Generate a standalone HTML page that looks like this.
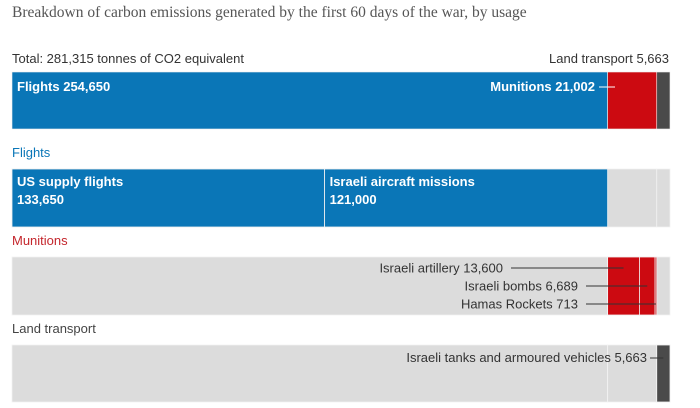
<!DOCTYPE html>
<html><head><meta charset="utf-8"><style>
html,body{margin:0;padding:0;background:#fff;}
svg{display:block;font-family:"Liberation Sans",sans-serif;}
.w{fill:#fff;font-weight:bold;font-size:13px;}
.g{fill:#333;font-size:13px;}
</style></head><body>
<svg id="c" width="700" height="408" viewBox="0 0 700 408">
<text x="12" y="17" font-family="Liberation Serif,serif" font-size="15.5" fill="#555">Breakdown of carbon emissions generated by the first 60 days of the war, by usage</text>
<text x="12" y="63" class="g">Total: 281,315 tonnes of CO2 equivalent</text>
<text x="157" y="157" font-size="13" fill="#0a76b7" transform="translate(-145,0)">Flights</text>
<text x="12" y="245" font-size="13" fill="#c4262c">Munitions</text>
<text x="12" y="333" font-size="13" fill="#444">Land transport</text>
<g id="marks"></g>
</svg>
<script>
const categories = ["Flights", "Munitions", "Land transport"];
const categoryValues = [254650, 21002, 5663];
const flightLabels = ["US supply flights", "Israeli aircraft missions"];
const flightValues = [133650, 121000];
const munitionLabels = ["Israeli artillery", "Israeli bombs", "Hamas Rockets"];
const munitionValues = [13600, 6689, 713];
const landLabels = ["Israeli tanks and armoured vehicles"];
const landValues = [5663];
const colors = ["#0a76b7", "#cc0a11", "#4a4a4a"];

const NS = "http://www.w3.org/2000/svg";
const g = document.getElementById("marks");
const total = categoryValues.reduce((a, b) => a + b, 0);
const X0 = 12, W = 658;
const x = v => X0 + v / total * W;
const fmt = v => v.toLocaleString("en-US");
function mk(tag, attrs, parent) {
  const e = document.createElementNS(NS, tag);
  for (const k in attrs) e.setAttribute(k, attrs[k]);
  (parent || g).appendChild(e);
  return e;
}
function txt(s, attrs) { const e = mk("text", attrs); e.textContent = s; return e; }
// category starts
const starts = []; let acc = 0;
categoryValues.forEach(v => { starts.push(acc); acc += v; });
const rows = [[72, 57], [169, 58], [257, 58], [345, 57]];

// row 0: total breakdown
categoryValues.forEach((v, i) => {
  const r = mk("rect", {x: x(starts[i]), y: rows[0][0], width: x(starts[i] + v) - x(starts[i]), height: rows[0][1], fill: colors[i], stroke: "#f0f0f0", "stroke-width": 0.6});
  
  
});
let t = txt(categories[0] + " " + fmt(categoryValues[0]), {x: 17, y: 91, class: "w"});


t = txt(categories[1] + " " + fmt(categoryValues[1]), {x: 595, y: 91, class: "w", "text-anchor": "end"});


let l = mk("line", {x1: 599, x2: 615, y1: 87, y2: 87, stroke: "#fff", "stroke-width": 1});


t = txt(categories[2] + " " + fmt(categoryValues[2]), {x: 669, y: 63, class: "g", "text-anchor": "end", fill: "#555"});



// background segments for detail rows
function bg(rowIdx, name) {
  categoryValues.forEach((v, i) => {
    const r = mk("rect", {x: x(starts[i]), y: rows[rowIdx][0], width: x(starts[i] + v) - x(starts[i]), height: rows[rowIdx][1], fill: "#dcdcdc", stroke: "#f2f2f2", "stroke-width": 0.8});
    
    
  });
}
function sub(rowIdx, base, vals, color, name, lbls) {
  let a = base; const out = [];
  vals.forEach((v, i) => {
    const r = mk("rect", {x: x(a), y: rows[rowIdx][0], width: x(a + v) - x(a), height: rows[rowIdx][1], fill: color, stroke: "#f2f2f2", "stroke-width": 0.8});
    
    
    out.push([x(a), x(a + v)]);
    a += v;
  });
  return out;
}
bg(1, "flights"); bg(2, "munitions"); bg(3, "land-transport");

// flights
const fs = sub(1, starts[0], flightValues, colors[0], "flights", flightLabels);
flightLabels.forEach((s, i) => {
  let a = txt(s, {x: fs[i][0] + 5, y: 186, class: "w"});
  
  
  a = txt(fmt(flightValues[i]), {x: fs[i][0] + 5, y: 204, class: "w"});
  
  
});

// munitions
const ms = sub(2, starts[1], munitionValues, colors[1], "munitions", munitionLabels);
const mTextEnd = [503, 578, 578];
munitionLabels.forEach((s, i) => {
  const y = 268 + i * 18;
  let a = txt(s + " " + fmt(munitionValues[i]), {x: mTextEnd[i], y: y + 4.5, class: "g", "text-anchor": "end"});
  
  
  const w = s.length > 14 ? 0 : 0;
  a = mk("line", {x1: mTextEnd[i] + 8 + (i ? 0 : 0), x2: (ms[i][0] + ms[i][1]) / 2, y1: y, y2: y, stroke: "#333", "stroke-width": 1});
  
  
});

// land transport
const ls = sub(3, starts[2], landValues, colors[2], "land-transport", landLabels);
t = txt(landLabels[0] + " " + fmt(landValues[0]), {x: 647, y: 362, class: "g", "text-anchor": "end"});


l = mk("line", {x1: 650, x2: (ls[0][0] + ls[0][1]) / 2, y1: 358, y2: 358, stroke: "#333", "stroke-width": 1});


</script>
</body></html>
